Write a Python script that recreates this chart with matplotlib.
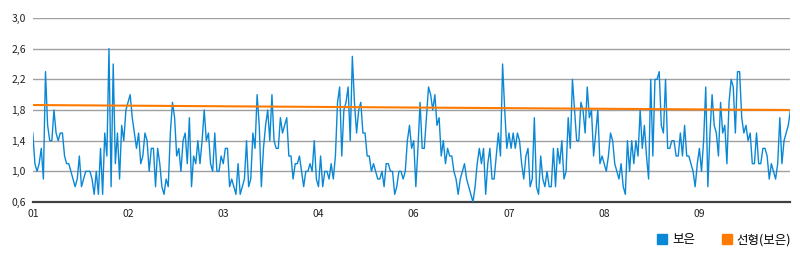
import numpy as np
import matplotlib.pyplot as plt
from matplotlib.ticker import FuncFormatter
from matplotlib.lines import Line2D

plt.rcParams['font.family'] = ['Noto Sans CJK KR', 'DejaVu Sans']

# daily values (보은)
boeun = [
    1.5, 1.1, 1.0, 1.1, 1.3, 0.9, 2.3, 1.6, 1.4, 1.4, 1.8, 1.5, 1.4, 1.5, 1.5,
    1.2, 1.1, 1.1, 1.0, 0.9, 0.8, 0.9, 1.2, 0.8, 0.9, 1.0, 1.0, 1.0, 0.9, 0.7,
    1.0, 0.7, 1.3, 0.7, 1.5, 1.2, 2.6, 0.8, 2.4, 1.1, 1.5, 0.9, 1.6, 1.4, 1.8,
    1.9, 2.0, 1.7, 1.5, 1.3, 1.5, 1.1, 1.2, 1.5, 1.4, 1.0, 1.3, 1.3, 0.8, 1.3,
    1.1, 0.8, 0.7, 0.9, 0.8, 1.5, 1.9, 1.7, 1.2, 1.3, 1.0, 1.4, 1.5, 1.1, 1.7,
    0.8, 1.2, 1.1, 1.4, 1.1, 1.4, 1.8, 1.4, 1.5, 1.1, 1.0, 1.5, 1.0, 1.0, 1.2,
    1.1, 1.3, 1.3, 0.8, 0.9, 0.8, 0.7, 1.1, 0.7, 0.8, 0.9, 1.4, 0.8, 0.9, 1.5,
    1.3, 2.0, 1.6, 0.8, 1.3, 1.6, 1.8, 1.4, 2.0, 1.4, 1.3, 1.3, 1.7, 1.5, 1.6,
    1.7, 1.2, 1.2, 0.9, 1.1, 1.1, 1.2, 1.0, 0.8, 1.0, 1.0, 1.1, 1.0, 1.4, 0.9,
    0.8, 1.2, 0.8, 1.0, 1.0, 0.9, 1.1, 0.9, 1.2, 1.9, 2.1, 1.2, 1.8, 1.9, 2.1,
    1.4, 2.5, 1.9, 1.5, 1.8, 1.9, 1.5, 1.5, 1.2, 1.2, 1.0, 1.1, 1.0, 0.9, 0.9,
    1.0, 0.8, 1.1, 1.1, 1.0, 1.0, 0.7, 0.8, 1.0, 1.0, 0.9, 1.0, 1.4, 1.6, 1.3,
    1.4, 0.8, 1.3, 1.9, 1.3, 1.3, 1.7, 2.1, 2.0, 1.8, 2.0, 1.6, 1.7, 1.2, 1.4,
    1.1, 1.3, 1.2, 1.2, 1.0, 0.9, 0.7, 0.9, 1.0, 1.1, 0.9, 0.8, 0.7, 0.6, 0.8,
    1.1, 1.3, 1.1, 1.3, 0.7, 1.1, 1.3, 0.9, 0.9, 1.2, 1.5, 1.2, 2.4, 1.8, 1.3,
    1.5, 1.3, 1.5, 1.3, 1.5, 1.4, 1.1, 0.9, 1.2, 1.3, 0.8, 0.9, 1.7,
    0.8, 0.7, 1.2, 0.9, 0.8, 1.0, 0.8, 0.8, 1.3, 0.8, 1.3, 1.1, 1.4, 0.9, 1.0,
    1.7, 1.3, 2.2, 1.8, 1.4, 1.4, 1.9, 1.8, 1.5, 2.1, 1.7, 1.8, 1.2, 1.5, 1.8,
    1.1, 1.2,
    1.1, 1.0, 1.2, 1.5, 1.4, 1.1, 1.0, 0.9, 1.1, 0.8, 0.7, 1.4, 1.0, 1.4, 1.1,
    1.4, 1.2, 1.8, 1.3, 1.6, 1.2, 0.9, 2.2, 1.2, 2.2, 2.2, 2.3, 1.6, 1.5, 2.2,
    1.3, 1.3, 1.4, 1.4, 1.2, 1.2, 1.5, 1.2, 1.6, 1.2, 1.2, 1.1, 1.0,
    0.8, 1.1, 1.3, 1.0, 1.4, 2.1, 0.8, 1.5, 2.0, 1.6, 1.5, 1.2, 1.9, 1.5, 1.6,
    1.1, 1.9, 2.2, 2.1, 1.5, 2.3, 2.3, 1.7, 1.5, 1.6, 1.4, 1.5, 1.1, 1.1, 1.5,
    1.1, 1.1, 1.3, 1.3, 1.2, 0.9, 1.1, 1.0, 0.9, 1.1, 1.7, 1.1, 1.4, 1.5, 1.6,
    1.8,
]

# linear trend (선형(보은)) end values as drawn
trend_ends = [1.865, 1.80]

month_labels = ['01', '02', '03', '04', '06', '07', '08', '09']
label_step = 45

x = np.arange(len(boeun))

fig = plt.figure(figsize=(8, 2.59), dpi=100)
ax = fig.add_axes([0.041, 0.22, 0.947, 0.7105])

blue = '#0a88d6'
orange = '#ff7a00'

ax.plot(x, boeun, color=blue, lw=1.0, zorder=3)
ax.plot([x[0], x[-1]], trend_ends, color=orange, lw=1.5, zorder=4)

ax.set_xlim(0, len(boeun) - 1)
ax.set_ylim(0.6, 3.0)
ax.set_yticks(np.arange(0.6, 3.01, 0.4))
ax.yaxis.set_major_formatter(FuncFormatter(lambda v, p: f"{v:.1f}".replace('.', ',')))
ax.set_xticks(np.arange(len(month_labels)) * label_step)
ax.set_xticklabels(month_labels)

ax.grid(axis='y', color='#a0a0a0', lw=1.0)
ax.set_axisbelow(True)
for s in ['top', 'right', 'left']:
    ax.spines[s].set_visible(False)
ax.spines['bottom'].set_color('#404040')
ax.spines['bottom'].set_linewidth(1.6)
ax.tick_params(axis='both', length=0, labelsize=7.5, colors='#222222')
ax.tick_params(axis='y', pad=5)
ax.tick_params(axis='x', pad=5)

handles = [
    Line2D([], [], marker='s', ls='none', color=blue, markersize=7.5),
    Line2D([], [], marker='s', ls='none', color=orange, markersize=7.5),
]
fig.legend(handles, ['보은', '선형(보은)'], loc='center right',
           bbox_to_anchor=(1.003, 0.075), ncol=2, frameon=False,
           fontsize=9, handletextpad=0.3, columnspacing=2.0, handlelength=1.0)

fig.savefig('out.png', dpi=100)
